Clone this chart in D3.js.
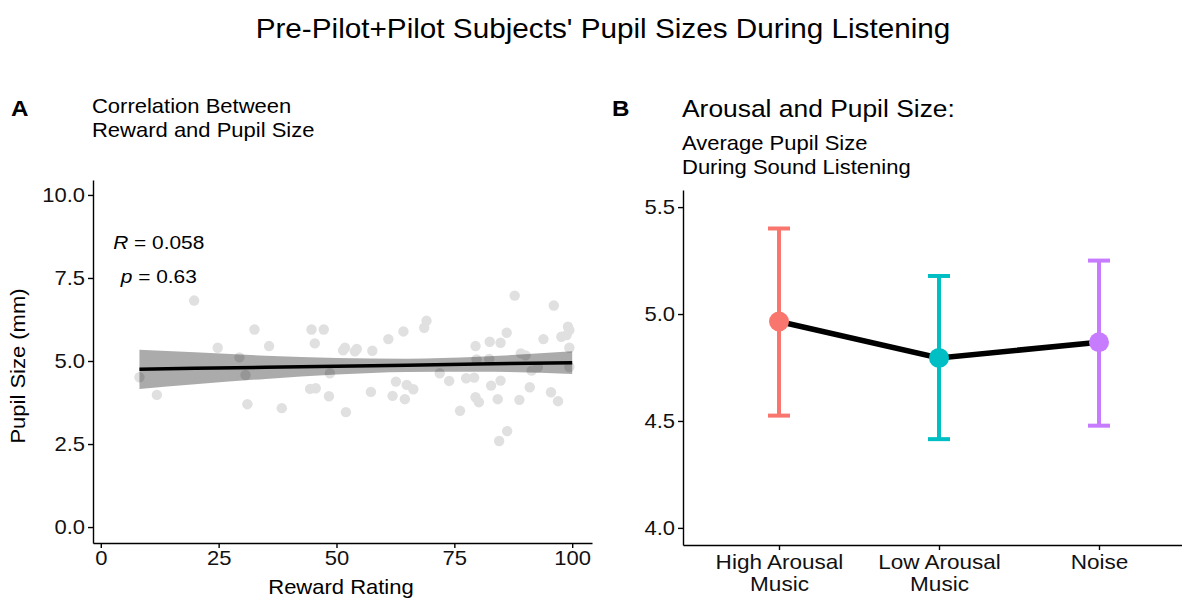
<!DOCTYPE html>
<html>
<head>
<meta charset="utf-8">
<script src="https://cdn.jsdelivr.net/npm/d3@7"></script>
<style>
	body { margin: 0; background: #fff; }
	svg { display: block; font-family: "Liberation Sans", Arial, Helvetica, sans-serif; }
	.axis path, .axis line { stroke: #000; stroke-width: 1.4; }
	.axis text { fill: #111; font-size: 20px; }
</style>
</head>
<body>
<div id="chart"></div>
<script>
// panel A : reward rating vs pupil size
var rewardRating = [8.2, 11.9, 19.8, 24.8, 29.4, 30.7, 31.1, 32.6, 35.7, 38.4,
	44.7, 47.3, 45.4, 51.4, 51.8, 53.9, 54.3, 57.6, 48.6, 44.4,
	45.6, 48.4, 52.0, 57.3, 61.0, 64.2, 62.6, 64.9, 66.3, 61.9,
	64.5, 69.1, 68.6, 71.9, 73.9, 76.2, 77.5, 79.2, 79.5, 79.7,
	79.5, 80.2, 82.5, 84.8, 82.4, 82.8, 84.8, 84.2, 86.1, 87.8,
	88.8, 84.5, 86.2, 91.0, 89.1, 90.1, 91.4, 92.7, 93.9, 96.1,
	95.5, 97.0, 97.7, 99.1, 99.4, 98.8, 99.4, 99.4];
var pupilSize = [4.51, 3.98, 6.82, 5.40, 5.11, 4.58, 3.70, 5.95, 5.45, 3.58,
	5.95, 5.95, 5.53, 5.32, 5.40, 5.29, 5.36, 5.31, 4.63, 4.16,
	4.18, 3.94, 3.46, 4.07, 5.66, 5.89, 4.38, 4.28, 4.15, 3.95,
	3.85, 6.21, 6.00, 4.63, 4.40, 3.50, 4.48, 4.50, 5.45, 5.05,
	3.91, 3.76, 5.58, 5.55, 5.06, 4.26, 4.41, 3.85, 5.85, 6.97,
	3.83, 2.59, 2.89, 4.21, 5.23, 5.17, 4.71, 4.81, 5.66, 6.67,
	4.06, 3.79, 5.73, 6.03, 5.93, 5.78, 5.40, 4.82];

// fitted line and confidence band, read at a few x positions
var fitX = [8.2, 20, 35, 50, 65, 80, 100];
var fitY = [4.75, 4.78, 4.81, 4.84, 4.87, 4.91, 4.95];
var fitLow = [4.16, 4.30, 4.46, 4.59, 4.67, 4.68, 4.61];
var fitHigh = [5.34, 5.26, 5.16, 5.09, 5.07, 5.13, 5.29];

var xTicksA = [0, 25, 50, 75, 100];
var yTicksA = [0, 2.5, 5, 7.5, 10];

// panel B : mean pupil size per condition
var conditions = ['High Arousal\nMusic', 'Low Arousal\nMusic', 'Noise'];
var condMean = [4.965, 4.795, 4.868];
var condLow = [4.525, 4.415, 4.478];
var condHigh = [5.400, 5.178, 5.250];
var condColor = ['#F8766D', '#00BFC4', '#C77CFF'];
var yTicksB = [4.0, 4.5, 5.0, 5.5];

var W = 1182, H = 599;

var svg = d3.select('#chart').append('svg')
	.attr('width', W)
	.attr('height', H);

svg.append('rect').attr('width', W).attr('height', H).attr('fill', '#fff');

// main title
svg.append('text')
	.attr('x', 603).attr('y', 38)
	.attr('text-anchor', 'middle')
	.style('font-size', '27px')
	.text("Pre-Pilot+Pilot Subjects' Pupil Sizes During Listening");

// ---------- panel A ----------
var xA = d3.scaleLinear().domain([-1.65, 104.2]).range([93, 592]);
var yA = d3.scaleLinear().domain([-0.48, 10.45]).range([543, 180]);

var gA = svg.append('g');

gA.append('text').attr('x', 11).attr('y', 116)
	.style('font-size', '22px').style('font-weight', 'bold').text('A');
var subA = gA.append('text').attr('x', 92).attr('y', 113).style('font-size', '20px');
subA.append('tspan').attr('x', 92).text('Correlation Between');
subA.append('tspan').attr('x', 92).attr('dy', 24).text('Reward and Pupil Size');

var pts = rewardRating.map(function (d, i) { return { x: d, y: pupilSize[i] }; });

gA.selectAll('.dot')
	.data(pts)
	.enter().append('circle')
	.attr('class', 'dot')
	.attr('cx', function (d) { return xA(d.x); })
	.attr('cy', function (d) { return yA(d.y); })
	.attr('r', 5.2)
	.attr('fill', '#e0e0e0');

var band = fitX.map(function (d, i) { return { x: d, lo: fitLow[i], hi: fitHigh[i], y: fitY[i] }; });

var area = d3.area()
	.x(function (d) { return xA(d.x); })
	.y0(function (d) { return yA(d.lo); })
	.y1(function (d) { return yA(d.hi); })
	.curve(d3.curveMonotoneX);

gA.append('path')
	.datum(band)
	.attr('d', area)
	.attr('fill', '#000')
	.attr('fill-opacity', 0.33);

var fitLine = d3.line()
	.x(function (d) { return xA(d.x); })
	.y(function (d) { return yA(d.y); });

gA.append('path')
	.datum(band)
	.attr('d', fitLine)
	.attr('fill', 'none')
	.attr('stroke', '#000')
	.attr('stroke-width', 3.5);

// R and p labels
var rTxt = gA.append('text').attr('x', xA(12.3)).attr('y', 249)
	.attr('text-anchor', 'middle').style('font-size', '19px');
rTxt.append('tspan').style('font-style', 'italic').text('R');
rTxt.append('tspan').text(' = 0.058');
var pTxt = gA.append('text').attr('x', xA(12.3)).attr('y', 283)
	.attr('text-anchor', 'middle').style('font-size', '19px');
pTxt.append('tspan').style('font-style', 'italic').text('p');
pTxt.append('tspan').text(' = 0.63');

gA.append('g')
	.attr('class', 'axis')
	.attr('transform', 'translate(93,0)')
	.call(d3.axisLeft(yA).tickValues(yTicksA).tickFormat(d3.format('.1f'))
		.tickSize(5).tickSizeOuter(0).tickPadding(3));

gA.append('g')
	.attr('class', 'axis')
	.attr('transform', 'translate(0,543)')
	.call(d3.axisBottom(xA).tickValues(xTicksA).tickFormat(d3.format('d'))
		.tickSize(5).tickSizeOuter(0).tickPadding(3));

gA.append('text')
	.attr('transform', 'translate(25,366) rotate(-90)')
	.attr('text-anchor', 'middle')
	.style('font-size', '20px')
	.text('Pupil Size (mm)');

gA.append('text')
	.attr('x', 341).attr('y', 594)
	.attr('text-anchor', 'middle')
	.style('font-size', '20px')
	.text('Reward Rating');

// ---------- panel B ----------
var xB = d3.scalePoint().domain(conditions).range([683, 1195]).padding(0.6);
var yB = d3.scaleLinear().domain([3.92, 5.58]).range([545, 190]);

var gB = svg.append('g');

gB.append('text').attr('x', 612).attr('y', 116)
	.style('font-size', '22px').style('font-weight', 'bold').text('B');
gB.append('text').attr('x', 682).attr('y', 117)
	.style('font-size', '24px').text('Arousal and Pupil Size:');
var subB = gB.append('text').attr('x', 682).attr('y', 150).style('font-size', '20px');
subB.append('tspan').attr('x', 682).text('Average Pupil Size');
subB.append('tspan').attr('x', 682).attr('dy', 24).text('During Sound Listening');

gB.append('g')
	.attr('class', 'axis')
	.attr('transform', 'translate(683,0)')
	.call(d3.axisLeft(yB).tickValues(yTicksB).tickFormat(d3.format('.1f'))
		.tickSize(5).tickSizeOuter(0).tickPadding(3));

var axB = gB.append('g')
	.attr('class', 'axis')
	.attr('transform', 'translate(0,545)')
	.call(d3.axisBottom(xB).tickSize(5).tickSizeOuter(0).tickPadding(4));

// split category labels on two lines
axB.selectAll('.tick text').each(function (d) {
	var t = d3.select(this).text('').style('font-size', '20.5px');
	d.split('\n').forEach(function (s, i) {
		t.append('tspan').attr('x', 0).attr('dy', i === 0 ? '0.75em' : '1.06em').text(s);
	});
});

var cond = conditions.map(function (c, i) {
	return { c: c, m: condMean[i], lo: condLow[i], hi: condHigh[i], col: condColor[i] };
});

var bars = gB.selectAll('.err')
	.data(cond)
	.enter().append('g')
	.attr('class', 'err');

bars.append('line')
	.attr('x1', function (d) { return xB(d.c); })
	.attr('x2', function (d) { return xB(d.c); })
	.attr('y1', function (d) { return yB(d.lo); })
	.attr('y2', function (d) { return yB(d.hi); })
	.attr('stroke', function (d) { return d.col; })
	.attr('stroke-width', 4);

['lo', 'hi'].forEach(function (k) {
	bars.append('line')
		.attr('x1', function (d) { return xB(d.c) - 11; })
		.attr('x2', function (d) { return xB(d.c) + 11; })
		.attr('y1', function (d) { return yB(d[k]); })
		.attr('y2', function (d) { return yB(d[k]); })
		.attr('stroke', function (d) { return d.col; })
		.attr('stroke-width', 4);
});

gB.append('path')
	.datum(cond)
	.attr('d', d3.line()
		.x(function (d) { return xB(d.c); })
		.y(function (d) { return yB(d.m); }))
	.attr('fill', 'none')
	.attr('stroke', '#000')
	.attr('stroke-width', 5.5);

gB.selectAll('.mean')
	.data(cond)
	.enter().append('circle')
	.attr('class', 'mean')
	.attr('cx', function (d) { return xB(d.c); })
	.attr('cy', function (d) { return yB(d.m); })
	.attr('r', 10)
	.attr('fill', function (d) { return d.col; });

// the original font runs a bit wider than Liberation Sans: stretch text horizontally
svg.selectAll('text').each(function () {
	var t = d3.select(this);
	var x = +t.attr('x') || 0;
	var prev = t.attr('transform') || '';
	t.attr('transform', prev + ' translate(' + x + ',0) scale(1.1,1) translate(' + (-x) + ',0)');
});
</script>
</body>
</html>
